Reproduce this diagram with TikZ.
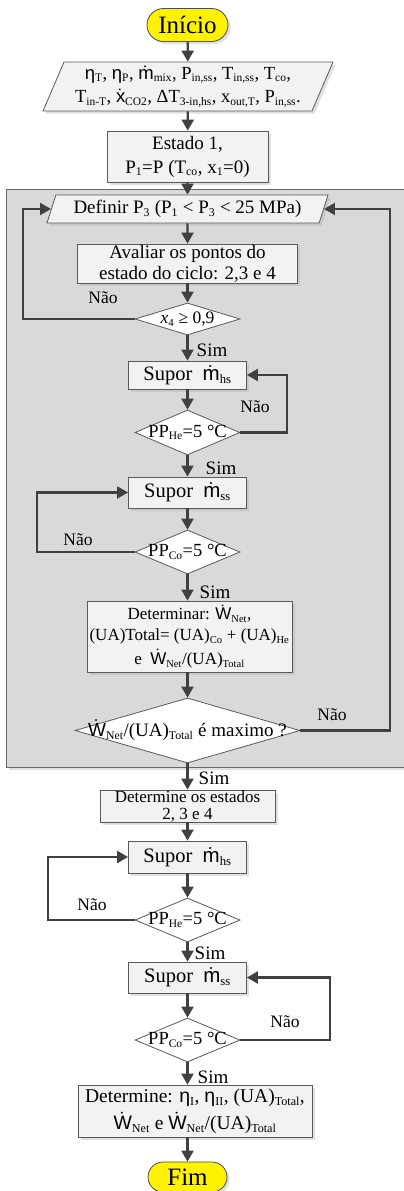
\documentclass[tikz,border=0pt]{standalone}
\usepackage{fontspec}
\setmainfont{Liberation Serif}
\newfontfamily\sansgr{Liberation Sans}
\usepackage{tikz}
\usetikzlibrary{shapes.geometric}
\usetikzlibrary{shapes.misc}
\usetikzlibrary{arrows.meta}
\usetikzlibrary{shadows}

\definecolor{linegray}{HTML}{404040}
\definecolor{boxgray}{HTML}{F2F2F2}
\definecolor{loopgray}{HTML}{D9D9D9}

\newcommand\etaS{{\sansgr η}}
\newcommand\mdot{{\sansgr\accent"02D9 m}}
\newcommand\Wdot{{\sansgr\accent"02D9 W}}
\newcommand\xdot{{\sansgr\accent"02D9 x}}
\makeatletter
\newcommand\sub[1]{\ensuremath{_{\hbox{\fontsize{\strip@pt\dimexpr0.62\dimexpr\f@size pt\relax\relax}{1}\selectfont #1}}}}
\makeatother
\newcommand\fs[1]{\fontsize{#1}{#1}\selectfont}

\begin{document}
\begin{tikzpicture}[
	x=1pt,y=-1pt,
	font=\fs{17.5}
]
\tikzset{
    boxshadow/.style = {drop shadow={opacity=0.35,shadow xshift=2.5pt,shadow yshift=-2.5pt,fill=black!35}},
    procbox/.style = {rectangle, draw=black!65, fill=boxgray, line width=0.8pt, align=center, inner sep=0pt, boxshadow},
    iobox/.style = {trapezium, trapezium stretches body=true, trapezium left angle=63, trapezium right angle=117, draw=black!65, fill=boxgray, line width=0.8pt, align=center, inner sep=0pt, boxshadow},
    decision/.style = {diamond, draw=black!65, fill=white, line width=0.8pt, inner sep=0pt},
    terminal/.style = {rounded rectangle, draw=black!70, fill=yellow, line width=0.8pt, inner sep=0pt, boxshadow, font=\fs{25}},
    flow/.style = {draw=linegray, line width=2.2pt, -{Triangle[length=11pt,width=12pt]}},
    supor/.style = {font=\fs{20.5}},
    pptext/.style = {font=\fs{18.5}},
    simlbl/.style = {font=\fs{19}}
}
\useasboundingbox (0,0) rectangle (404,1191);

% laco de otimizacao
\node[draw=black!60, fill=loopgray, line width=0.8pt, boxshadow, minimum width=404pt, minimum height=578pt, inner sep=0pt] (loop) at (208,478) {};

\node[terminal,minimum width=81pt,minimum height=33pt] (ini) at (187.5,25) {Início};
\node[iobox,minimum width=290pt,minimum height=49pt,font=\fs{18.5},align=center] (inp) at (188,86.5) {\etaS\sub{T}, \etaS\sub{P}, \mdot\sub{mix}, P\sub{in,ss}, T\sub{in,ss}, T\sub{co},\\[5pt] T\sub{in-T}, \xdot\sub{CO2}, ΔT\sub{3-in,hs}, x\sub{out,T}, P\sub{in,ss}.};
\node[procbox,minimum width=161pt,minimum height=51pt,font=\fs{19}] (est1) at (187.5,156.5) {Estado 1,\\[5pt] P\sub{1}=P (T\sub{co}, x\sub{1}=0)};
\node[iobox,minimum width=281pt,minimum height=28pt,font=\fs{19}] (def) at (187.5,209) {Definir P\sub{3} (P\sub{1} < P\sub{3} < 25 MPa)};
\node[procbox,minimum width=220pt,minimum height=39pt,font=\fs{19}] (aval) at (187.5,263.5) {Avaliar os pontos do\\[2pt] estado do ciclo: 2,3 e 4};
\node[decision,minimum width=105pt,minimum height=32pt] (x4) at (187.5,319) {};
\node[font=\fs{17.5}] (x4t) at (x4) {\textit{x}\sub{4} ≥ 0,9};
\node[procbox,minimum width=118pt,minimum height=28pt,supor] (mhs1) at (187.5,375) {Supor \ \mdot\sub{hs}};
\node[decision,minimum width=105pt,minimum height=45pt] (phe1) at (187.5,432.5) {};
\node[pptext] (phe1t) at (phe1) {PP\sub{He}=5 °C};
\node[procbox,minimum width=118pt,minimum height=31pt,supor] (mss1) at (187.5,492.5) {Supor \ \mdot\sub{ss}};
\node[decision,minimum width=105pt,minimum height=44pt] (pco1) at (187.5,552) {};
\node[pptext] (pco1t) at (pco1) {PP\sub{Co}=5 °C};
\node[procbox,minimum width=205pt,minimum height=71pt,font=\fs{17}] (det1) at (189.5,636.5) {Determinar: \Wdot\sub{Net},\\[4pt] (UA)Total= (UA)\sub{Co} + (UA)\sub{He}\\[4pt] e \ \Wdot\sub{Net}/(UA)\sub{Total}};
\node[decision,minimum width=225pt,minimum height=65pt] (max) at (187.5,730.5) {};
\node[font=\fs{19}] (maxt) at (max) {\Wdot\sub{Net}/(UA)\sub{Total} é maximo ?};
\node[procbox,minimum width=175pt,minimum height=32pt,font=\fs{17}] (est2) at (187.5,806) {Determine os estados\\ 2, 3 e 4};
\node[procbox,minimum width=118pt,minimum height=32pt,supor] (mhs2) at (187.5,857) {Supor \ \mdot\sub{hs}};
\node[decision,minimum width=105pt,minimum height=44pt] (phe2) at (187.5,920) {};
\node[pptext] (phe2t) at (phe2) {PP\sub{He}=5 °C};
\node[procbox,minimum width=118pt,minimum height=31pt,supor] (mss2) at (187.5,977.5) {Supor \ \mdot\sub{ss}};
\node[decision,minimum width=105pt,minimum height=44pt] (pco2) at (187.5,1040) {};
\node[pptext] (pco2t) at (pco2) {PP\sub{Co}=5 °C};
\node[procbox,minimum width=234pt,minimum height=52pt,font=\fs{19.5}] (det2) at (195,1111) {Determine: \etaS\sub{I}, \etaS\sub{II}, (UA)\sub{Total},\\[5pt] \Wdot\sub{Net} e \Wdot\sub{Net}/(UA)\sub{Total}};
\node[terminal,minimum width=79pt,minimum height=30pt] (fim) at (187.5,1177) {Fim};

% rotulos
\node[] (nao1) at (103,298) {Não};
\node[simlbl] (sim1) at (212,350) {Sim};
\node[] (nao2) at (255,407) {Não};
\node[simlbl] (sim2) at (221,468) {Sim};
\node[] (nao3) at (78,540) {Não};
\node[simlbl] (sim3) at (215,592) {Sim};
\node[] (nao4) at (332,715) {Não};
\node[simlbl] (sim4) at (214,778) {Sim};
\node[] (nao5) at (92,905) {Não};
\node[simlbl] (sim5) at (210,953) {Sim};
\node[] (nao6) at (285,1022) {Não};
\node[simlbl] (sim6) at (213,1077) {Sim};

% setas
\draw[flow] (ini) -- (inp);
\draw[flow] (inp) -- (est1);
\draw[flow] (est1) -- (def);
\draw[flow] (def) -- (aval);
\draw[flow] (aval) -- (x4);
\draw[flow] (x4) -- (mhs1);
\draw[flow] (mhs1) -- (phe1);
\draw[flow] (phe1) -- (mss1);
\draw[flow] (mss1) -- (pco1);
\draw[flow] (pco1.south) -- (pco1.south |- det1.north);
\draw[flow] (max.north |- det1.south) -- (max.north);
\draw[flow] (max) -- (est2);
\draw[flow] (est2) -- (mhs2);
\draw[flow] (mhs2) -- (phe2);
\draw[flow] (phe2) -- (mss2);
\draw[flow] (mss2) -- (pco2);
\draw[flow] (pco2.south) -- (pco2.south |- det2.north);
\draw[flow] (fim.north |- det2.south) -- (fim.north);

% lacos
\coordinate (lx1) at (23,0);
\coordinate (rx1) at (390,0);
\coordinate (rx2) at (287,0);
\coordinate (lx2) at (37,0);
\coordinate (lx3) at (48,0);
\coordinate (rx3) at (330,0);
\draw[flow] (x4.west) -| (lx1 |- def.west) -- (def.west);
\draw[flow] (max.east) -| (rx1 |- def.east) -- (def.east);
\draw[flow] (phe1.east) -| (rx2 |- mhs1.east) -- (mhs1.east);
\draw[flow] (pco1.west) -| (lx2 |- mss1.west) -- (mss1.west);
\draw[flow] (phe2.west) -| (lx3 |- mhs2.west) -- (mhs2.west);
\draw[flow] (pco2.east) -| (rx3 |- mss2.east) -- (mss2.east);
\end{tikzpicture}
\end{document}
